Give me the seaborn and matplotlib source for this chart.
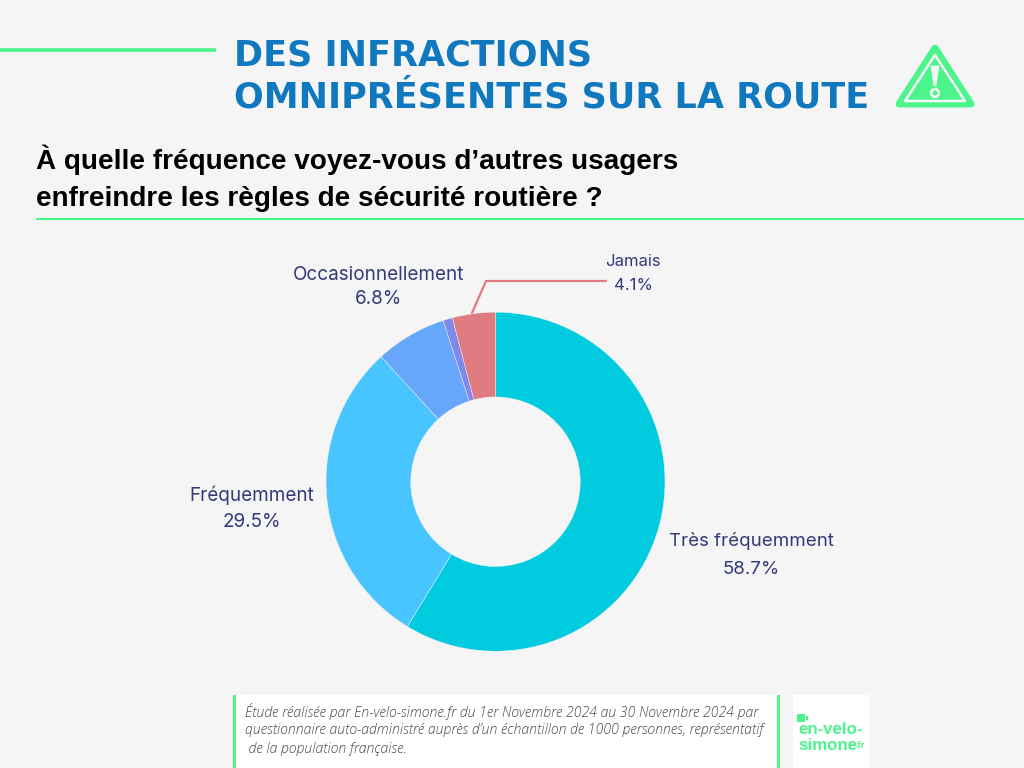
import matplotlib
matplotlib.use("Agg")
import matplotlib.pyplot as plt
import seaborn as sns
from matplotlib.patches import Polygon, Circle, Rectangle

categories = ["Très fréquemment", "Fréquemment", "Occasionnellement", "Rarement", "Jamais"]
values = [58.7, 29.5, 6.8, 0.9, 4.1]
shown = ["58.7%", "29.5%", "6.8%", "", "4.1%"]
colors = ["#00CBDF", "#48C4FF", "#66A6FB", "#8088EA", "#E07B82"]

title_lines = ["DES INFRACTIONS", "OMNIPRÉSENTES SUR LA ROUTE"]
question_lines = ["À quelle fréquence voyez-vous d’autres usagers",
                  "enfreindre les règles de sécurité routière ?"]
note_lines = ["Étude réalisée par En-velo-simone.fr du 1er Novembre 2024 au 30 Novembre 2024 par",
              "questionnaire auto-administré auprès d’un échantillon de 1000 personnes, représentatif",
              " de la population française."]

bg = "#F5F5F5"
green = "#4CF58C"
blue = "#0F78BE"
navy = "#35397A"

sns.set_theme(style="white", rc={"figure.facecolor": bg, "axes.facecolor": bg})
fig = plt.figure(figsize=(10.24, 7.68), dpi=100, facecolor=bg)

# overlay in pixel coordinates for the page furniture
page = fig.add_axes([0, 0, 1, 1])
page.set_xlim(0, 1024)
page.set_ylim(768, 0)
page.axis("off")

page.plot([0, 216], [50, 50], color=green, lw=2.6, solid_capstyle="butt")
page.plot([36, 1024], [218.5, 218.5], color=green, lw=1.5, solid_capstyle="butt")

for y, line in zip([55, 98], title_lines):
    page.text(234, y, line, color=blue, fontsize=25.2, fontweight="bold",
              family="DejaVu Sans", va="center", ha="left")

for y, line in zip([159.5, 199.5], question_lines):
    page.text(36, y, line, color="black", fontsize=20.1, fontweight="bold",
              family="Liberation Sans", va="center", ha="left")

# warning sign
page.add_patch(Polygon([[935, 48], [971, 104], [899, 104]], closed=True, fc=green, ec=green,
                       lw=5, joinstyle="round"))
page.add_patch(Polygon([[935, 55], [965, 101], [905, 101]], closed=True, fc="none", ec=bg,
                       lw=1.8, joinstyle="round"))
page.add_patch(Polygon([[931, 66], [939, 66], [936, 86], [934, 86]], closed=True, fc=bg, ec=bg, lw=0.5))
page.add_patch(Circle((935, 93), 3.8, fc="none", ec=bg, lw=1.9))

# footer
page.add_patch(Rectangle((233, 695), 547, 73, fc="white", ec="none"))
page.add_patch(Rectangle((233, 695), 3, 73, fc=green, ec="none"))
page.add_patch(Rectangle((777, 695), 3, 73, fc=green, ec="none"))
for y, line in zip([711, 730, 749], note_lines):
    page.text(245, y, line, color="#4A4A4A", fontsize=10.1, style="italic", fontweight="light",
              family="Open Sans", va="center", ha="left")

page.add_patch(Rectangle((793, 695), 76, 73, fc="white", ec="none"))
page.add_patch(Rectangle((797, 714), 8, 8, fc=green, ec="none"))
page.add_patch(Rectangle((806, 716), 1.5, 4, fc=green, ec="none"))
page.text(798, 730, "en-velo-", color=green, fontsize=12.2, fontweight="bold", family="Liberation Sans", va="center")
page.text(798, 745, "simone", color=green, fontsize=12.2, fontweight="bold", family="Liberation Sans", va="center")
page.text(855, 746, ".fr", color=green, fontsize=6.5, fontweight="bold", family="Liberation Sans", va="center")

# donut
cx, cy, r = 495.5, 481.7, 169.5
ax = fig.add_axes([(cx - r) / 1024, 1 - (cy + r) / 768, 2 * r / 1024, 2 * r / 768])
ax.pie(values, colors=colors, startangle=90, counterclock=False, radius=1,
       wedgeprops={"width": 0.5, "edgecolor": "#F5F5F5", "linewidth": 0.3})
ax.set_xlim(-1, 1)
ax.set_ylim(-1, 1)

# labels
spots = {0: (751, 541, 569.5), 1: (252, 495, 522), 2: (379, 274.5, 298.5), 4: (633, 261.5, 285.5)}
sizes = {0: 13.5, 1: 13.6, 2: 13.6, 4: 12.0}
for i, (x, y1, y2) in spots.items():
    page.text(x, y1, categories[i], color=navy, fontsize=sizes[i], family="Inter", ha="center", va="center")
    page.text(x, y2, shown[i], color=navy, fontsize=sizes[i], family="Inter", ha="center", va="center")

page.plot([472, 486, 606], [313, 281, 281], color=colors[4], lw=1.6, solid_joinstyle="miter")

fig.savefig("out.png", dpi=100, facecolor=bg)
